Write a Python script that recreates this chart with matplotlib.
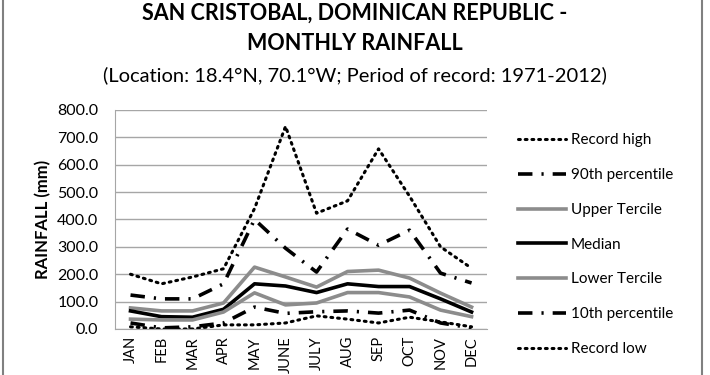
import numpy as np
import matplotlib
matplotlib.use("Agg")
import matplotlib.pyplot as plt

plt.rcParams['font.family'] = ['Lato', 'DejaVu Sans']

# monthly rainfall statistics (mm)
months = ['JAN', 'FEB', 'MAR', 'APR', 'MAY', 'JUNE', 'JULY', 'AUG', 'SEP', 'OCT', 'NOV', 'DEC']
record_high = [200, 165, 190, 220, 440, 740, 423, 468, 658, 485, 300, 222]
pct90 = [124, 110, 110, 165, 400, 295, 208, 365, 306, 361, 204, 168]
upper_tercile = [77, 66, 66, 95, 226, 190, 153, 210, 215, 186, 131, 80]
median = [66, 45, 43, 72, 165, 157, 133, 165, 155, 155, 110, 62]
lower_tercile = [36, 33, 33, 62, 132, 88, 95, 133, 133, 117, 69, 45]
pct10 = [22, 4, 8, 22, 80, 57, 63, 66, 58, 69, 22, 4]
record_low = [8, 0, 0, 15, 15, 22, 48, 36, 22, 43, 26, 8]

fig = plt.figure(figsize=(7.1, 3.75), dpi=100)
ax = fig.add_axes([0.162, 0.1227, 0.524, 0.584])

x = np.arange(len(months))
dot = (0, (0.6, 1.6))
dashdot = (0, (4, 2.5, 0.6, 2.5))

ax.plot(x, record_high, color='black', lw=2.2, ls=dot, dash_capstyle='round', label='Record high')
ax.plot(x, pct90, color='black', lw=2.6, ls=dashdot, label='90th percentile')
ax.plot(x, upper_tercile, color='#8c8c8c', lw=2.6, label='Upper Tercile')
ax.plot(x, median, color='black', lw=2.6, label='Median')
ax.plot(x, lower_tercile, color='#8c8c8c', lw=2.6, label='Lower Tercile')
ax.plot(x, pct10, color='black', lw=2.6, ls=dashdot, label='10th percentile')
ax.plot(x, record_low, color='black', lw=2.2, ls=dot, dash_capstyle='round', label='Record low')

ax.set_xlim(-0.5, 11.5)
ax.set_ylim(0, 800)
ax.set_yticks(np.arange(0, 801, 100))
ax.set_yticklabels([f'{v:.1f}' for v in range(0, 801, 100)], fontsize=11.5)
ax.set_xticks(x)
ax.set_xticklabels(months, rotation=90, fontsize=10.5)
ax.tick_params(axis='y', length=0, pad=12)
ax.tick_params(axis='x', length=0, pad=5)
ax.grid(axis='y', color='#a6a6a6', lw=1)
ax.set_axisbelow(True)
for s in ['top', 'right']:
    ax.spines[s].set_visible(False)
for s in ['left', 'bottom']:
    ax.spines[s].set_color('#a6a6a6')
ax.set_ylabel('RAINFALL (mm)', fontsize=12, fontweight='bold', labelpad=4)

ax.legend(loc='center left', bbox_to_anchor=(1.045, 0.385), frameon=False, fontsize=11,
          handlelength=3.2, handletextpad=0.3, labelspacing=1.36)

fig.text(0.5, 0.965, 'SAN CRISTOBAL, DOMINICAN REPUBLIC -', ha='center', va='center',
         fontsize=15.5, fontweight='bold')
fig.text(0.5, 0.885, 'MONTHLY RAINFALL', ha='center', va='center', fontsize=15.5, fontweight='bold')
fig.text(0.5, 0.80, '(Location: 18.4°N, 70.1°W; Period of record: 1971-2012)', ha='center',
         va='center', fontsize=14.5)

# gray frame lines at the left and right edges of the picture
fig.add_artist(plt.Line2D([0.004, 0.004], [0, 1], transform=fig.transFigure, color='#808080', lw=1.5))
fig.add_artist(plt.Line2D([0.989, 0.989], [0, 1], transform=fig.transFigure, color='#808080', lw=1.5))

fig.savefig('out.png', dpi=100)
